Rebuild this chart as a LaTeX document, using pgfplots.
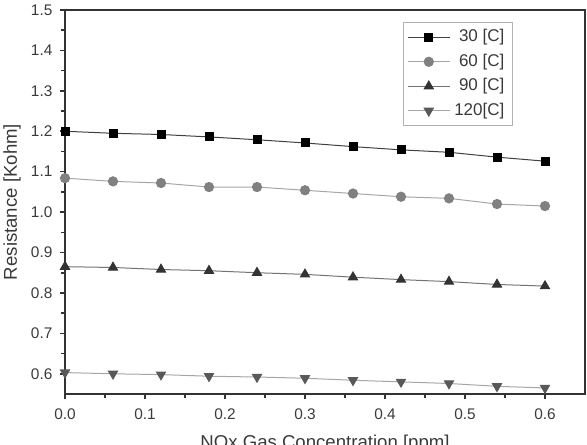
\documentclass[border=0pt]{standalone}
\usepackage{fontspec}
\setmainfont{Liberation Sans}
\usepackage{pgfplots}
\pgfplotsset{compat=1.18}
\definecolor{axc}{HTML}{333333}
\definecolor{txc}{HTML}{3a3a3a}
\begin{document}
\begin{tikzpicture}
\begin{axis}[
  name=ax,
  scale only axis,
  width=260pt, height=192pt,
  xmin=0, xmax=0.65, ymin=0.55, ymax=1.5,
  xtick={0,0.1,0.2,0.3,0.4,0.5,0.6},
  ytick={0.6,0.7,0.8,0.9,1.0,1.1,1.2,1.3,1.4,1.5},
  minor tick num=1,
  tick align=outside,
  xtick pos=bottom, ytick pos=left,
  major tick length=2.5pt, minor tick length=2pt,
  every tick/.style={axc, line width=0.8pt},
  axis line style={axc, line width=1pt},
  /pgf/number format/assume math mode=true,
  /pgf/number format/fixed,
  /pgf/number format/fixed zerofill,
  /pgf/number format/precision=1,
  tick label style={font=\fontsize{7.7}{9}\selectfont, text=txc, inner sep=0pt},
  xticklabel style={yshift=-4.5pt},
  yticklabel style={xshift=-3.6pt},
  xlabel={NOx Gas Concentration [ppm]},
  ylabel={Resistance [Kohm]},
  label style={font=\fontsize{9.3}{11}\selectfont, text=txc},
  xlabel style={at={(axis description cs:0.5,-0.107)}, anchor=north, inner sep=0pt},
  ylabel style={at={(axis description cs:-0.102,0.5)}, anchor=center, inner sep=0pt},
  legend style={at={(axis description cs:0.8615,0.96875)}, anchor=north east,
    draw=gray!60, line width=0.6pt, font=\fontsize{8.5}{10}\selectfont, text=txc,
    inner xsep=2pt, inner ysep=1.5pt, row sep=0.6pt},
  legend cell align=right,
  legend image code/.code={\draw[mark repeat=2,mark phase=2] plot coordinates {(0pt,0pt) (10.5pt,0pt) (21pt,0pt)};},
]
\addplot[color=black!75, line width=0.5pt, mark=square*, mark size=2pt, mark options={fill=black, draw=black}] coordinates {
(0,1.200) (0.06,1.195) (0.12,1.192) (0.18,1.186) (0.24,1.179) (0.30,1.171) (0.36,1.162) (0.42,1.154) (0.48,1.148) (0.54,1.136) (0.60,1.126)};
\addlegendentry{30 [C]}
\addplot[color=black!35, line width=0.5pt, mark=*, mark size=2.3pt, mark options={fill=black!50, draw=black!50}] coordinates {
(0,1.084) (0.06,1.076) (0.12,1.072) (0.18,1.062) (0.24,1.062) (0.30,1.054) (0.36,1.046) (0.42,1.038) (0.48,1.034) (0.54,1.020) (0.60,1.015)};
\addlegendentry{60 [C]}
\addplot[color=black!55, line width=0.5pt, mark=triangle*, mark size=2.6pt, mark options={fill=black!80, draw=black!80}] coordinates {
(0,0.865) (0.06,0.863) (0.12,0.858) (0.18,0.855) (0.24,0.850) (0.30,0.846) (0.36,0.839) (0.42,0.833) (0.48,0.828) (0.54,0.821) (0.60,0.817)};
\addlegendentry{90 [C]}
\addplot[color=black!35, line width=0.5pt, mark=triangle*, mark size=2.6pt, mark options={rotate=180, fill=black!65, draw=black!65}] coordinates {
(0,0.603) (0.06,0.600) (0.12,0.598) (0.18,0.594) (0.24,0.592) (0.30,0.589) (0.36,0.584) (0.42,0.580) (0.48,0.576) (0.54,0.569) (0.60,0.565)};
\addlegendentry{120[C]}
\end{axis}
\pgfresetboundingbox
\path[use as bounding box] ([shift={(-32.5pt,-25pt)}]ax.south west) rectangle ([shift={(1pt,5pt)}]ax.north east);
\end{tikzpicture}
\end{document}
